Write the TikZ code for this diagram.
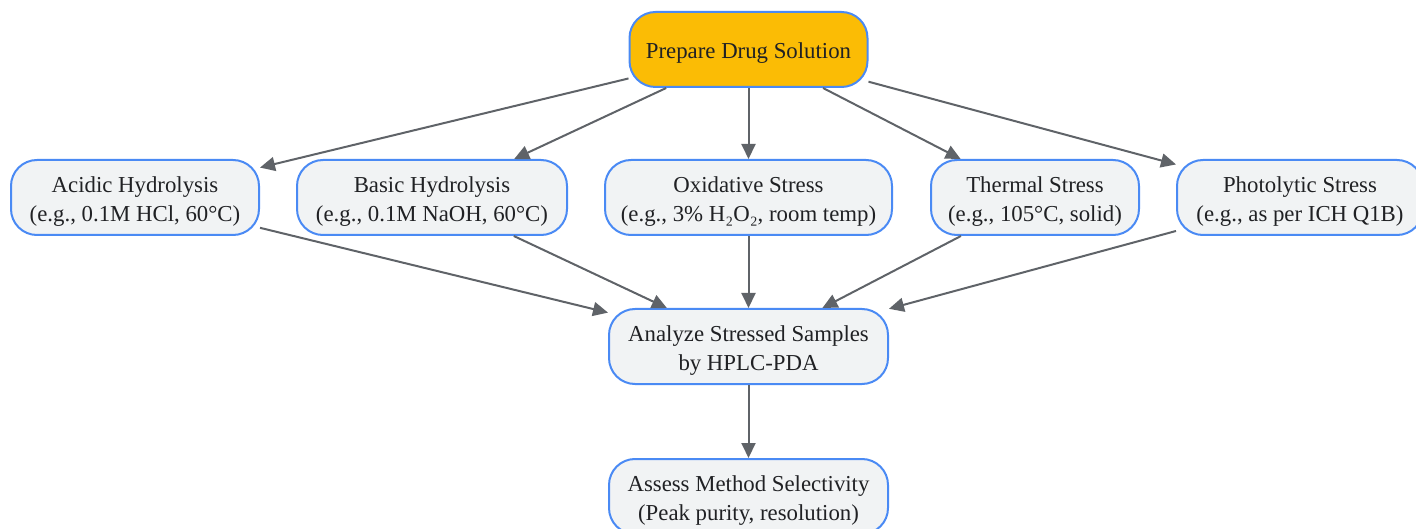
\documentclass[tikz,border=0pt]{standalone}
\usepackage{fontspec}
\setmainfont{Liberation Serif}
\usetikzlibrary{arrows.meta}
\definecolor{nodefill}{HTML}{F1F3F4}
\definecolor{nodeborder}{HTML}{4A8AF4}
\definecolor{startfill}{HTML}{FBBC05}
\definecolor{edgecol}{HTML}{5F6368}
\definecolor{textcol}{HTML}{202124}
\newcommand{\nodetext}[1]{\raisebox{-3.5pt}[\height][\depth]{\begin{tabular}{@{}c@{}}#1\end{tabular}}}
\begin{document}
\begin{tikzpicture}[x=1pt,y=-1pt,
  box/.style={draw=nodeborder, line width=2pt, fill=nodefill, rounded corners=26pt,
    text=textcol, font=\fontsize{22.8}{29}\selectfont, inner sep=0pt,
    minimum height=75pt},
  edge/.style={draw=edgecol, line width=2pt, -{Triangle[length=15pt,width=14pt]}}]
\useasboundingbox (0,0) rectangle (1416,529);
\node[box, fill=startfill, minimum width=238pt] (prep) at (748.5,49.5) {\nodetext{Prepare Drug Solution}};
\node[box, minimum width=248pt] (acid) at (135,197.5) {\nodetext{Acidic Hydrolysis\\(e.g., 0.1M HCl, 60°C)}};
\node[box, minimum width=270pt] (base) at (432,197.5) {\nodetext{Basic Hydrolysis\\(e.g., 0.1M NaOH, 60°C)}};
\node[box, minimum width=287pt] (oxid) at (748.5,197.5) {\nodetext{Oxidative Stress\\(e.g., 3\% H₂O₂, room temp)}};
\node[box, minimum width=208pt] (therm) at (1035,197.5) {\nodetext{Thermal Stress\\(e.g., 105°C, solid)}};
\node[box, minimum width=246pt] (photo) at (1300,197.5) {\nodetext{Photolytic Stress\\(e.g., as per ICH Q1B)}};
\node[box, minimum width=279pt] (anal) at (748.5,346.5) {\nodetext{Analyze Stressed Samples\\by HPLC-PDA}};
\node[box, minimum width=279pt] (assess) at (748.5,496.5) {\nodetext{Assess Method Selectivity\\(Peak purity, resolution)}};
\draw[edge] (prep) -- (acid);
\draw[edge] (prep) -- (base);
\draw[edge] (prep) -- (oxid);
\draw[edge] (prep) -- (therm);
\draw[edge] (prep) -- (photo);
\draw[edge] (acid) -- (anal);
\draw[edge] (base) -- (anal);
\draw[edge] (oxid) -- (anal);
\draw[edge] (therm) -- (anal);
\draw[edge] (photo) -- (anal);
\draw[edge] (anal) -- (assess);
\end{tikzpicture}
\end{document}
